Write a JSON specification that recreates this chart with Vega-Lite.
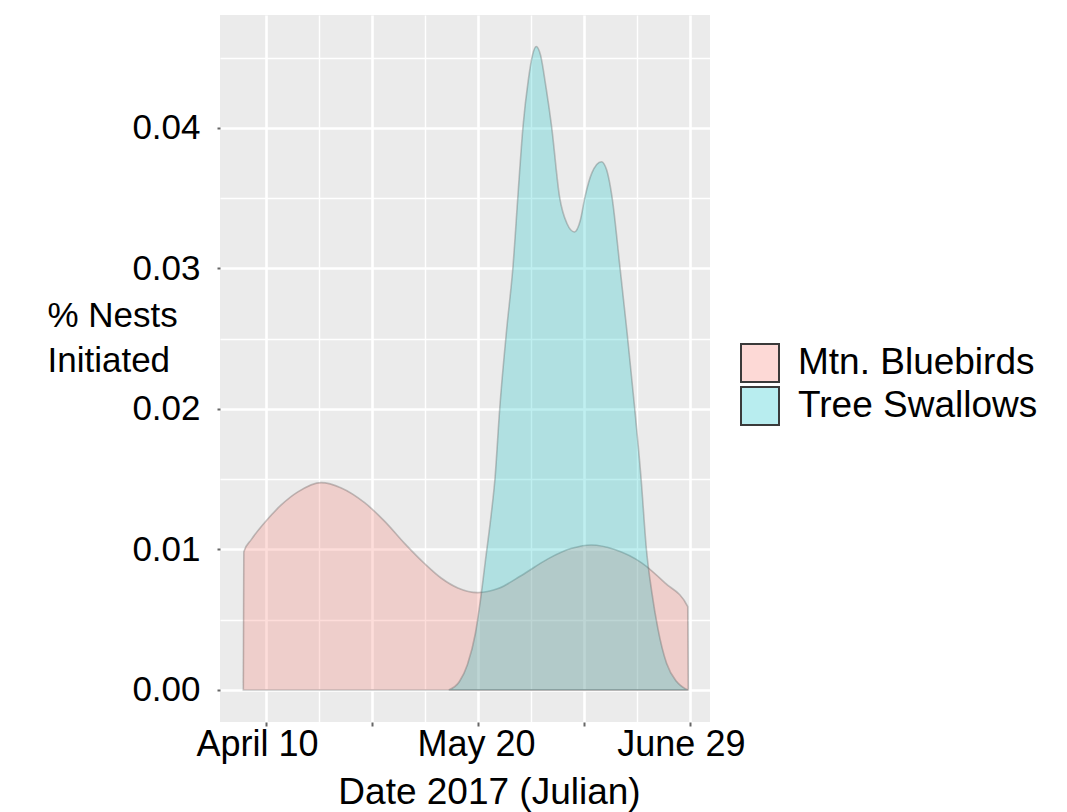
{
  "$schema": "https://vega.github.io/schema/vega-lite/v6.json",
  "width": 490,
  "height": 707,
  "autosize": {"type": "none"},
  "padding": {"left": 220, "top": 15, "right": 357, "bottom": 90},
  "background": "white",
  "config": {
    "view": {"fill": "#EBEBEB", "stroke": null},
    "font": "Liberation Sans"
  },
  "data": {
    "values": [
      {"species": "Mtn. Bluebirds", "day": 95.7, "density": 0},
      {"species": "Mtn. Bluebirds", "day": 95.8, "density": 0.00984},
      {"species": "Mtn. Bluebirds", "day": 97.2, "density": 0.0107},
      {"species": "Mtn. Bluebirds", "day": 99.7, "density": 0.0119},
      {"species": "Mtn. Bluebirds", "day": 102.8, "density": 0.01315},
      {"species": "Mtn. Bluebirds", "day": 106.0, "density": 0.0141},
      {"species": "Mtn. Bluebirds", "day": 110.4, "density": 0.01476},
      {"species": "Mtn. Bluebirds", "day": 114.2, "density": 0.01438},
      {"species": "Mtn. Bluebirds", "day": 118.6, "density": 0.01333},
      {"species": "Mtn. Bluebirds", "day": 122.4, "density": 0.0120},
      {"species": "Mtn. Bluebirds", "day": 126.1, "density": 0.01045},
      {"species": "Mtn. Bluebirds", "day": 129.9, "density": 0.00900},
      {"species": "Mtn. Bluebirds", "day": 133.1, "density": 0.00795},
      {"species": "Mtn. Bluebirds", "day": 136.2, "density": 0.00726},
      {"species": "Mtn. Bluebirds", "day": 140.0, "density": 0.00693},
      {"species": "Mtn. Bluebirds", "day": 143.8, "density": 0.00722},
      {"species": "Mtn. Bluebirds", "day": 148.2, "density": 0.00815},
      {"species": "Mtn. Bluebirds", "day": 153.3, "density": 0.00935},
      {"species": "Mtn. Bluebirds", "day": 157.7, "density": 0.01008},
      {"species": "Mtn. Bluebirds", "day": 161.4, "density": 0.01032},
      {"species": "Mtn. Bluebirds", "day": 165.8, "density": 0.01},
      {"species": "Mtn. Bluebirds", "day": 170.9, "density": 0.00905},
      {"species": "Mtn. Bluebirds", "day": 175.3, "density": 0.00762},
      {"species": "Mtn. Bluebirds", "day": 179.6, "density": 0.00593},
      {"species": "Mtn. Bluebirds", "day": 179.7, "density": 0},
      {"species": "Tree Swallows", "day": 134.5, "density": 0},
      {"species": "Tree Swallows", "day": 136.5, "density": 0.0006},
      {"species": "Tree Swallows", "day": 138.0, "density": 0.0018},
      {"species": "Tree Swallows", "day": 139.5, "density": 0.004},
      {"species": "Tree Swallows", "day": 140.5, "density": 0.0065},
      {"species": "Tree Swallows", "day": 141.5, "density": 0.0095},
      {"species": "Tree Swallows", "day": 142.5, "density": 0.0125},
      {"species": "Tree Swallows", "day": 143.2, "density": 0.015},
      {"species": "Tree Swallows", "day": 144.1, "density": 0.02},
      {"species": "Tree Swallows", "day": 145.4, "density": 0.0256},
      {"species": "Tree Swallows", "day": 146.6, "density": 0.0301},
      {"species": "Tree Swallows", "day": 147.6, "density": 0.0355},
      {"species": "Tree Swallows", "day": 148.5, "density": 0.0401},
      {"species": "Tree Swallows", "day": 149.5, "density": 0.0434},
      {"species": "Tree Swallows", "day": 150.3, "density": 0.0452},
      {"species": "Tree Swallows", "day": 151.0, "density": 0.0458},
      {"species": "Tree Swallows", "day": 151.8, "density": 0.0452},
      {"species": "Tree Swallows", "day": 152.8, "density": 0.043},
      {"species": "Tree Swallows", "day": 153.9, "density": 0.0401},
      {"species": "Tree Swallows", "day": 155.4, "density": 0.0351},
      {"species": "Tree Swallows", "day": 156.8, "density": 0.0332},
      {"species": "Tree Swallows", "day": 158.2, "density": 0.0326},
      {"species": "Tree Swallows", "day": 159.3, "density": 0.0334},
      {"species": "Tree Swallows", "day": 160.2, "density": 0.0351},
      {"species": "Tree Swallows", "day": 161.5, "density": 0.0368},
      {"species": "Tree Swallows", "day": 163.3, "density": 0.0376},
      {"species": "Tree Swallows", "day": 164.3, "density": 0.037},
      {"species": "Tree Swallows", "day": 165.3, "density": 0.0351},
      {"species": "Tree Swallows", "day": 166.8, "density": 0.0301},
      {"species": "Tree Swallows", "day": 168.1, "density": 0.0256},
      {"species": "Tree Swallows", "day": 169.6, "density": 0.02},
      {"species": "Tree Swallows", "day": 170.8, "density": 0.015},
      {"species": "Tree Swallows", "day": 171.8, "density": 0.01},
      {"species": "Tree Swallows", "day": 172.8, "density": 0.007},
      {"species": "Tree Swallows", "day": 174.0, "density": 0.0043},
      {"species": "Tree Swallows", "day": 175.6, "density": 0.0019},
      {"species": "Tree Swallows", "day": 177.5, "density": 0.0006},
      {"species": "Tree Swallows", "day": 179.6, "density": 0}
    ]
  },
  "mark": {
    "type": "area",
    "interpolate": "monotone",
    "fillOpacity": 0.25,
    "stroke": "#555555",
    "strokeOpacity": 0.32,
    "strokeWidth": 1.6
  },
  "encoding": {
    "x": {
      "field": "day",
      "type": "quantitative",
      "scale": {"domain": [91.3, 183.8], "nice": false, "zero": false},
      "axis": {
        "values": [100, 110, 120, 130, 140, 150, 160, 170, 180],
        "labelExpr": "datum.value == 100 ? 'April 10' : datum.value == 140 ? 'May 20' : datum.value == 180 ? 'June 29' : ''",
        "labelFontSize": 36,
        "labelColor": "#000000",
        "labelPadding": 1,
        "labelOffset": {"condition": {"test": "datum.value == 140", "value": -2}, "value": -9},
        "labelFlush": false,
        "labelOverlap": false,
        "tickSize": 4,
        "tickWidth": 2,
        "tickColor": "#666666",
        "tickOpacity": {"condition": {"test": "datum.value % 20 == 0", "value": 1}, "value": 0},
        "domain": false,
        "grid": true,
        "gridColor": "#FFFFFF",
        "gridOpacity": 1,
        "gridWidth": {"condition": {"test": "datum.value % 20 == 0", "value": 2.6}, "value": 1.4},
        "title": "Date 2017 (Julian)",
        "titleFontSize": 37,
        "titleFontWeight": "normal",
        "titleColor": "#000000",
        "titleAlign": "center",
        "titleBaseline": "alphabetic",
        "titleX": 269,
        "titleY": 81
      }
    },
    "y": {
      "field": "density",
      "type": "quantitative",
      "stack": null,
      "scale": {"domain": [-0.00228, 0.04804], "nice": false, "zero": false},
      "axis": {
        "values": [0, 0.005, 0.01, 0.015, 0.02, 0.025, 0.03, 0.035, 0.04, 0.045],
        "labelExpr": "round(datum.value * 200) % 2 == 0 ? format(datum.value, '.2f') : ''",
        "labelFontSize": 35,
        "labelColor": "#000000",
        "labelPadding": 17,
        "labelBaseline": "middle",
        "labelFlush": false,
        "labelOverlap": false,
        "tickSize": 3,
        "tickWidth": 2,
        "tickColor": "#666666",
        "tickOpacity": {"condition": {"test": "round(datum.value * 200) % 2 == 0", "value": 1}, "value": 0},
        "domain": false,
        "grid": true,
        "gridColor": "#FFFFFF",
        "gridOpacity": 1,
        "gridWidth": {"condition": {"test": "round(datum.value * 200) % 2 == 0", "value": 2.6}, "value": 1.4},
        "title": ["% Nests", "Initiated"],
        "titleFontSize": 35,
        "titleFontWeight": "normal",
        "titleColor": "#000000",
        "titleAngle": 0,
        "titleAlign": "left",
        "titleBaseline": "alphabetic",
        "titleLineHeight": 45,
        "titleX": -173,
        "titleY": 311
      }
    },
    "fill": {
      "field": "species",
      "type": "nominal",
      "scale": {"domain": ["Mtn. Bluebirds", "Tree Swallows"], "range": ["#F8766D", "#00BFC4"]},
      "legend": {
        "title": null,
        "orient": "none",
        "legendX": 520,
        "legendY": 328,
        "padding": 0,
        "symbolType": "square",
        "symbolSize": 1444,
        "symbolStrokeColor": "#3a3a3a",
        "symbolStrokeWidth": 2,
        "labelFontSize": 37,
        "labelColor": "#000000",
        "labelOffset": 18,
        "rowPadding": -6,
        "labelLimit": 400,
        "encode": {
          "symbols": {"update": {"fillOpacity": {"value": 0.28}, "stroke": {"value": "#3a3a3a"}, "strokeOpacity": {"value": 1}, "strokeWidth": {"value": 2}}}
        }
      }
    }
  }
}
